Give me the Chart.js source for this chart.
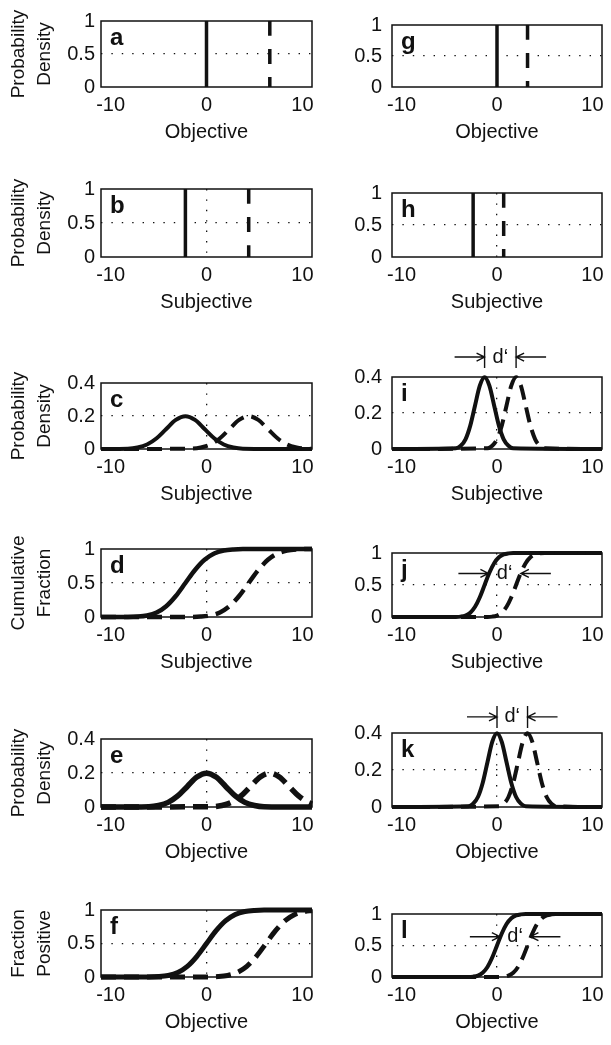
<!DOCTYPE html>
<html>
<head>
<meta charset="utf-8">
<script src="https://cdn.jsdelivr.net/npm/chart.js@4.4.1/dist/chart.umd.min.js"></script>
<style>
html, body { margin: 0; padding: 0; background: #fff; }
#fig { position: relative; width: 611px; height: 1045px; overflow: hidden; background: #fff; }
#fig canvas { position: absolute; }
</style>
</head>
<body>
<div id="fig"></div>
<script>
// tick labels
const xTicks = [-10, 0, 10];
const unitTicks = [0, 0.5, 1];
const densityTicks = [0, 0.2, 0.4];

// delta (single value) panels, [x, y] pairs
const aSolid = [[0, 0], [0, 1]];
const aDashed = [[6.6, 1], [6.6, 0]];
const bSolid = [[-2.2, 0], [-2.2, 1]];
const bDashed = [[4.4, 1], [4.4, 0]];
const gSolid = [[0, 0], [0, 1]];
const gDashed = [[3.2, 1], [3.2, 0]];
const hSolid = [[-2.5, 0], [-2.5, 1]];
const hDashed = [[0.7, 1], [0.7, 0]];

// left column curves (wide spread)
const cSolid = [[-11, 0], [-8.2, 0.002], [-7.2, 0.009], [-6.2, 0.027], [-5.2, 0.065], [-4.2, 0.121], [-3.2, 0.176], [-2.2, 0.199], [-1.2, 0.176], [-0.2, 0.121], [0.8, 0.065], [1.8, 0.027], [2.8, 0.009], [3.8, 0.002], [11, 0]];
const cDashed = [[-11, 0], [-1.6, 0.002], [-0.6, 0.009], [0.4, 0.027], [1.4, 0.065], [2.4, 0.121], [3.4, 0.176], [4.4, 0.199], [5.4, 0.176], [6.4, 0.121], [7.4, 0.065], [8.4, 0.027], [9.4, 0.009], [10.4, 0.002], [11, 0.001]];
const dSolid = [[-11, 0], [-8.2, 0.001], [-7.2, 0.006], [-6.2, 0.023], [-5.2, 0.067], [-4.2, 0.159], [-3.2, 0.309], [-2.2, 0.5], [-1.2, 0.691], [-0.2, 0.841], [0.8, 0.933], [1.8, 0.977], [2.8, 0.994], [3.8, 0.999], [11, 1]];
const dDashed = [[-11, 0], [-1.6, 0.001], [-0.6, 0.006], [0.4, 0.023], [1.4, 0.067], [2.4, 0.159], [3.4, 0.309], [4.4, 0.5], [5.4, 0.691], [6.4, 0.841], [7.4, 0.933], [8.4, 0.977], [9.4, 0.994], [10.4, 0.999], [11, 1]];
const eSolid = [[-11, 0], [-6, 0.002], [-5, 0.009], [-4, 0.027], [-3, 0.065], [-2, 0.121], [-1, 0.176], [0, 0.199], [1, 0.176], [2, 0.121], [3, 0.065], [4, 0.027], [5, 0.009], [6, 0.002], [11, 0]];
const eDashed = [[-11, 0], [0.6, 0.002], [1.6, 0.009], [2.6, 0.027], [3.6, 0.065], [4.6, 0.121], [5.6, 0.176], [6.6, 0.199], [7.6, 0.176], [8.6, 0.121], [9.6, 0.065], [10.6, 0.027], [11, 0.018]];
const fSolid = [[-11, 0], [-6, 0.001], [-5, 0.006], [-4, 0.023], [-3, 0.067], [-2, 0.159], [-1, 0.309], [0, 0.5], [1, 0.691], [2, 0.841], [3, 0.933], [4, 0.977], [5, 0.994], [6, 0.999], [11, 1]];
const fDashed = [[-11, 0], [0.2, 0.001], [1.2, 0.006], [2.2, 0.023], [3.2, 0.067], [4.2, 0.159], [5.2, 0.309], [6.2, 0.5], [7.2, 0.691], [8.2, 0.841], [9.2, 0.933], [10.2, 0.977], [11, 0.992]];

// right column curves (narrow spread)
const iSolid = [[-11, 0], [-4.3, 0.004], [-3.8, 0.018], [-3.3, 0.054], [-2.8, 0.130], [-2.3, 0.242], [-1.8, 0.352], [-1.3, 0.399], [-0.8, 0.352], [-0.3, 0.242], [0.2, 0.130], [0.7, 0.054], [1.2, 0.018], [1.7, 0.004], [11, 0]];
const iDashed = [[-11, 0], [-1, 0.004], [-0.5, 0.018], [0, 0.054], [0.5, 0.130], [1, 0.242], [1.5, 0.352], [2, 0.399], [2.5, 0.352], [3, 0.242], [3.5, 0.130], [4, 0.054], [4.5, 0.018], [5, 0.004], [11, 0]];
const jSolid = [[-11, 0], [-4.3, 0.001], [-3.8, 0.006], [-3.3, 0.023], [-2.8, 0.067], [-2.3, 0.159], [-1.8, 0.309], [-1.3, 0.5], [-0.8, 0.691], [-0.3, 0.841], [0.2, 0.933], [0.7, 0.977], [1.2, 0.994], [1.7, 0.999], [11, 1]];
const jDashed = [[-11, 0], [-1, 0.001], [-0.5, 0.006], [0, 0.023], [0.5, 0.067], [1, 0.159], [1.5, 0.309], [2, 0.5], [2.5, 0.691], [3, 0.841], [3.5, 0.933], [4, 0.977], [4.5, 0.994], [5, 0.999], [11, 1]];
const kSolid = [[-11, 0], [-3, 0.004], [-2.5, 0.018], [-2, 0.054], [-1.5, 0.130], [-1, 0.242], [-0.5, 0.352], [0, 0.399], [0.5, 0.352], [1, 0.242], [1.5, 0.130], [2, 0.054], [2.5, 0.018], [3, 0.004], [11, 0]];
const kDashed = [[-11, 0], [0.2, 0.004], [0.7, 0.018], [1.2, 0.054], [1.7, 0.130], [2.2, 0.242], [2.7, 0.352], [3.2, 0.399], [3.7, 0.352], [4.2, 0.242], [4.7, 0.130], [5.2, 0.054], [5.7, 0.018], [6.2, 0.004], [11, 0]];
const lSolid = [[-11, 0], [-3, 0.001], [-2.5, 0.006], [-2, 0.023], [-1.5, 0.067], [-1, 0.159], [-0.5, 0.309], [0, 0.5], [0.5, 0.691], [1, 0.841], [1.5, 0.933], [2, 0.977], [2.5, 0.994], [3, 0.999], [11, 1]];
const lDashed = [[-11, 0], [0.2, 0.001], [0.7, 0.006], [1.2, 0.023], [1.7, 0.067], [2.2, 0.159], [2.7, 0.309], [3.2, 0.5], [3.7, 0.691], [4.2, 0.841], [4.7, 0.933], [5.2, 0.977], [5.7, 0.994], [6.2, 0.999], [11, 1]];

const DENS = ['Probability', 'Density'];

const panels = [
    { letter: 'a', col: 0, row: 0, xTitle: 'Objective',  yTitle: DENS, yTicks: unitTicks, solid: aSolid, dashed: aDashed, width: 3.5, dash: [15, 13] },
    { letter: 'b', col: 0, row: 1, xTitle: 'Subjective', yTitle: DENS, yTicks: unitTicks, solid: bSolid, dashed: bDashed, width: 3.5, dash: [15, 13] },
    { letter: 'c', col: 0, row: 2, xTitle: 'Subjective', yTitle: DENS, yTicks: densityTicks, solid: cSolid, dashed: cDashed, width: 4 },
    { letter: 'd', col: 0, row: 3, xTitle: 'Subjective', yTitle: ['Cumulative', 'Fraction'], yTicks: unitTicks, solid: dSolid, dashed: dDashed, width: 4.5 },
    { letter: 'e', col: 0, row: 4, xTitle: 'Objective',  yTitle: DENS, yTicks: densityTicks, solid: eSolid, dashed: eDashed, width: 5.5 },
    { letter: 'f', col: 0, row: 5, xTitle: 'Objective',  yTitle: ['Fraction', 'Positive'], yTicks: unitTicks, solid: fSolid, dashed: fDashed, width: 5 },
    { letter: 'g', col: 1, row: 0, xTitle: 'Objective',  yTicks: unitTicks, solid: gSolid, dashed: gDashed, width: 3.5, dash: [15, 13] },
    { letter: 'h', col: 1, row: 1, xTitle: 'Subjective', yTicks: unitTicks, solid: hSolid, dashed: hDashed, width: 3.5, dash: [15, 13] },
    { letter: 'i', col: 1, row: 2, xTitle: 'Subjective', yTicks: densityTicks, solid: iSolid, dashed: iDashed, width: 4,
      dprime: { left: -1.3, right: 2.0, y: 0.511, bars: true } },
    { letter: 'j', col: 1, row: 3, xTitle: 'Subjective', yTicks: unitTicks, solid: jSolid, dashed: jDashed, width: 4,
      dprime: { left: -0.9, right: 2.5, y: 0.68 } },
    { letter: 'k', col: 1, row: 4, xTitle: 'Objective',  yTicks: densityTicks, solid: kSolid, dashed: kDashed, width: 4,
      dprime: { left: 0, right: 3.2, y: 0.487, bars: true } },
    { letter: 'l', col: 1, row: 5, xTitle: 'Objective',  yTicks: unitTicks, solid: lSolid, dashed: lDashed, width: 4,
      dprime: { left: 0.3, right: 3.5, y: 0.64 } }
];

// page layout
const cols = [
    { left: 0,   width: 330, axisWidth: 101, labelPad: 6,  padRight: 18 },
    { left: 330, width: 281, axisWidth: 62,  labelPad: 10, padRight: 9 }
];
const rows = [
    { top: 15,  bottom: 87 },
    { top: 183, bottom: 257 },
    { top: 377, bottom: 449 },
    { top: 543, bottom: 617 },
    { top: 733, bottom: 807 },
    { top: 904, bottom: 977 }
];
const X_AXIS_H = 60;
const FONT = "'Liberation Sans', Arial, sans-serif";
const INK = '#111';

const toPoints = arr => arr.map(([x, y]) => ({ x, y }));

// box, panel letter and d' markers
const decorations = {
    id: 'decorations',
    beforeDatasetsDraw(chart) {
        const { ctx, chartArea: a } = chart;
        ctx.save();
        ctx.strokeStyle = INK;
        ctx.lineWidth = 1.5;
        ctx.strokeRect(a.left, a.top, a.right - a.left, a.bottom - a.top);
        ctx.restore();
    },
    afterDraw(chart, args, opts) {
        const { ctx, chartArea: a } = chart;
        ctx.save();
        ctx.fillStyle = INK;
        ctx.font = 'bold 24px ' + FONT;
        ctx.textBaseline = 'alphabetic';
        ctx.fillText(opts.letter, a.left + 9, a.top + 24);

        const dp = opts.dprime;
        if (dp) {
            const xs = chart.scales.x, ys = chart.scales.y;
            const xl = xs.getPixelForValue(dp.left);
            const xr = xs.getPixelForValue(dp.right);
            const y = ys.getPixelForValue(dp.y);
            ctx.strokeStyle = INK;
            ctx.lineWidth = 1.4;
            ctx.beginPath();
            if (dp.bars) {
                ctx.moveTo(xl, y - 11); ctx.lineTo(xl, y + 11);
                ctx.moveTo(xr, y - 11); ctx.lineTo(xr, y + 11);
            }
            // left arrow pointing right
            ctx.moveTo(xl - 30, y); ctx.lineTo(xl, y);
            ctx.moveTo(xl - 8, y - 4); ctx.lineTo(xl, y); ctx.lineTo(xl - 8, y + 4);
            // right arrow pointing left
            ctx.moveTo(xr + 30, y); ctx.lineTo(xr, y);
            ctx.moveTo(xr + 8, y - 4); ctx.lineTo(xr, y); ctx.lineTo(xr + 8, y + 4);
            ctx.stroke();
            ctx.font = '20px ' + FONT;
            ctx.textAlign = 'center';
            ctx.textBaseline = 'middle';
            ctx.fillText('d\u2018', (xl + xr) / 2, y);
        }
        ctx.restore();
    }
};

const fig = document.getElementById('fig');

function makeChart(p) {
    const col = cols[p.col], row = rows[p.row];
    const padTop = p.dprime && p.dprime.bars ? 50 : 12;
    const h = padTop + (row.bottom - row.top) + X_AXIS_H;

    const canvas = document.createElement('canvas');
    canvas.width = col.width;
    canvas.height = h;
    canvas.style.left = col.left + 'px';
    canvas.style.top = (row.top - padTop) + 'px';
    canvas.style.width = col.width + 'px';
    canvas.style.height = h + 'px';
    fig.appendChild(canvas);

    const yMid = p.yTicks[1];
    const line = (pts, dash) => ({
        data: toPoints(pts),
        borderColor: INK,
        borderWidth: p.width,
        borderDash: dash || [],
        borderCapStyle: 'butt',
        cubicInterpolationMode: 'monotone',
        pointRadius: 0,
        fill: false,
        clip: false
    });

    new Chart(canvas.getContext('2d'), {
        type: 'line',
        data: { datasets: [line(p.dashed, p.dash || [15, 8]), line(p.solid)] },
        options: {
            responsive: false,
            animation: false,
            events: [],
            layout: { padding: { top: padTop, right: col.padRight, left: 0, bottom: 0 } },
            plugins: {
                legend: { display: false },
                tooltip: { enabled: false },
                decorations: { letter: p.letter, dprime: p.dprime }
            },
            scales: {
                x: {
                    type: 'linear', min: -11, max: 11,
                    afterBuildTicks: s => { s.ticks = xTicks.map(v => ({ value: v })); },
                    afterFit: s => { s.height = X_AXIS_H; },
                    grid: {
                        drawTicks: false, lineWidth: 1.3,
                        color: c => (c.tick && c.tick.value === 0) ? INK : 'rgba(0,0,0,0)'
                    },
                    border: { display: false, dash: [1.4, 9] },
                    ticks: {
                        padding: 6, color: INK, autoSkip: false, maxRotation: 0,
                        font: { family: FONT, size: 20 },
                        callback: v => String(v)
                    },
                    title: {
                        display: true, text: p.xTitle, color: INK,
                        font: { family: FONT, size: 20, lineHeight: 1.2 },
                        padding: { top: 0, bottom: 3 }
                    }
                },
                y: {
                    min: p.yTicks[0], max: p.yTicks[2],
                    afterBuildTicks: s => { s.ticks = p.yTicks.map(v => ({ value: v })); },
                    afterFit: s => { s.width = col.axisWidth; },
                    grid: {
                        drawTicks: false, lineWidth: 1.3,
                        color: c => (c.tick && c.tick.value === yMid) ? INK : 'rgba(0,0,0,0)'
                    },
                    border: { display: false, dash: [1.4, 9] },
                    ticks: {
                        padding: col.labelPad, color: INK, autoSkip: false,
                        font: { family: FONT, size: 20 },
                        callback: v => String(v)
                    },
                    title: {
                        display: !!p.yTitle, text: p.yTitle || '', color: INK,
                        font: { family: FONT, size: 19, lineHeight: 1.4 },
                        padding: { top: 5, bottom: 0 }
                    }
                }
            }
        },
        plugins: [decorations]
    });
}

panels.forEach(makeChart);
</script>
</body>
</html>
